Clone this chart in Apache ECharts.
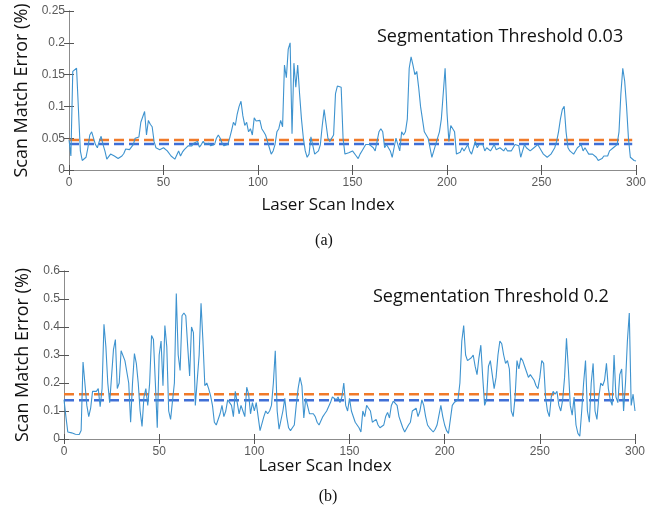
<!DOCTYPE html>
<html>
<head>
<meta charset="utf-8">
<script src="https://cdn.jsdelivr.net/npm/echarts@6/dist/echarts.min.js"></script>
<style>
  html, body { margin: 0; padding: 0; background: #fff; }
  #chart { width: 658px; height: 510px; }
</style>
</head>
<body>
<div id="chart"></div>
<script>
  // (a) segmentation threshold 0.03, scan match error per scan index 0..300
  var errA = [
    0.048, 0.022, 0.155, 0.155, 0.16, 0.095, 0.03, 0.015, 0.012, 0.02,
    0.035, 0.055, 0.06, 0.058, 0.04, 0.035, 0.045, 0.053, 0.04, 0.03,
    0.017, 0.02, 0.025, 0.024, 0.022, 0.02, 0.018, 0.02, 0.022, 0.026,
    0.033, 0.035, 0.032, 0.034, 0.04, 0.05, 0.05, 0.052, 0.075, 0.078,
    0.092, 0.055, 0.078, 0.072, 0.068, 0.045, 0.035, 0.033, 0.032, 0.034,
    0.035, 0.033, 0.03, 0.028, 0.022, 0.02, 0.017, 0.018, 0.03, 0.022,
    0.028, 0.032, 0.035, 0.038, 0.04, 0.038, 0.042, 0.04, 0.045, 0.036,
    0.04, 0.045, 0.04, 0.04, 0.042, 0.038, 0.036, 0.04, 0.05, 0.055,
    0.05, 0.042, 0.038, 0.035, 0.04, 0.05, 0.062, 0.075, 0.07, 0.088,
    0.1, 0.108, 0.085, 0.07, 0.075, 0.06, 0.065, 0.055, 0.082, 0.077,
    0.075, 0.078, 0.065, 0.06, 0.055, 0.045, 0.035, 0.025, 0.03, 0.04,
    0.06, 0.065, 0.078, 0.068, 0.165, 0.145, 0.19, 0.2, 0.057, 0.168,
    0.13, 0.165, 0.12, 0.08, 0.05, 0.03, 0.02, 0.025, 0.052, 0.05,
    0.025, 0.025, 0.03, 0.04, 0.07, 0.095, 0.096, 0.05, 0.045, 0.045,
    0.055, 0.12, 0.132, 0.13, 0.13, 0.05, 0.025, 0.025, 0.027, 0.025,
    0.03, 0.028, 0.022, 0.018, 0.025, 0.03, 0.035, 0.04, 0.04, 0.04,
    0.038, 0.035, 0.03, 0.045, 0.06, 0.065, 0.06, 0.035, 0.04, 0.04,
    0.03, 0.02, 0.035, 0.05, 0.04, 0.03, 0.06, 0.055, 0.06, 0.08,
    0.16, 0.178, 0.165, 0.15, 0.155, 0.13, 0.1, 0.08, 0.06, 0.055,
    0.05, 0.035, 0.02, 0.03, 0.04, 0.05, 0.06, 0.08, 0.12, 0.16,
    0.09, 0.045, 0.07, 0.07, 0.06, 0.025, 0.025, 0.028, 0.035, 0.03,
    0.035, 0.04, 0.03, 0.025, 0.035, 0.045, 0.035, 0.04, 0.038, 0.04,
    0.03, 0.035, 0.033, 0.03, 0.035, 0.04, 0.032, 0.03, 0.035, 0.035,
    0.03, 0.035, 0.03, 0.03, 0.03, 0.032, 0.04, 0.038, 0.038, 0.02,
    0.03, 0.04, 0.035, 0.032, 0.03, 0.03, 0.035, 0.035, 0.04, 0.035,
    0.03, 0.025, 0.022, 0.02, 0.02, 0.025, 0.03, 0.035, 0.045, 0.06,
    0.08, 0.095, 0.1, 0.06, 0.035, 0.03, 0.028, 0.025, 0.03, 0.035,
    0.038, 0.04, 0.03, 0.035, 0.03, 0.025, 0.028, 0.025, 0.028, 0.02,
    0.015, 0.012, 0.018, 0.022, 0.025, 0.022, 0.03, 0.032, 0.035, 0.038,
    0.04, 0.06, 0.12, 0.16, 0.14, 0.1, 0.05, 0.02, 0.022, 0.015, 0.014
  ];

  // (b) segmentation threshold 0.2
  var errB = [
    0.14, 0.08, 0.025, 0.02, 0.022, 0.018, 0.017, 0.016, 0.016, 0.03,
    0.275, 0.27, 0.12, 0.08, 0.11, 0.17, 0.175, 0.17, 0.18, 0.115,
    0.18, 0.41, 0.33, 0.2, 0.13, 0.135, 0.32, 0.355, 0.18, 0.2,
    0.315, 0.31, 0.28, 0.28, 0.2, 0.06, 0.2, 0.305, 0.27, 0.2,
    0.1, 0.045, 0.15, 0.18, 0.12, 0.2, 0.37, 0.355, 0.2, 0.04,
    0.3, 0.35, 0.19, 0.405, 0.33, 0.1, 0.07, 0.065, 0.2, 0.52,
    0.3, 0.245, 0.44, 0.45, 0.44, 0.33, 0.225, 0.4, 0.38, 0.12,
    0.115, 0.3, 0.485, 0.35, 0.19, 0.2, 0.18, 0.155, 0.12, 0.06,
    0.05, 0.045, 0.09, 0.12, 0.08, 0.1, 0.14, 0.13, 0.12, 0.08,
    0.17, 0.165, 0.09, 0.12, 0.1, 0.08, 0.185, 0.16, 0.09, 0.13,
    0.1, 0.13, 0.135, 0.03, 0.055, 0.08, 0.1, 0.09, 0.1, 0.12,
    0.2, 0.315, 0.1, 0.035, 0.04, 0.1, 0.145, 0.08, 0.04, 0.03,
    0.04, 0.05, 0.12, 0.18, 0.22, 0.19, 0.075, 0.145, 0.14, 0.09,
    0.095, 0.09, 0.08, 0.06, 0.05, 0.05, 0.08, 0.09, 0.1, 0.1,
    0.13, 0.15, 0.145, 0.14, 0.15, 0.13, 0.15, 0.2, 0.12, 0.1,
    0.145, 0.1, 0.1, 0.06, 0.05, 0.04, 0.025, 0.1, 0.08, 0.12,
    0.11, 0.1, 0.06, 0.06, 0.07, 0.05, 0.04, 0.035, 0.05, 0.08,
    0.095, 0.075, 0.12, 0.135, 0.13, 0.12, 0.08, 0.06, 0.04, 0.025,
    0.03, 0.05, 0.06, 0.1, 0.1, 0.11, 0.08, 0.1, 0.14, 0.12,
    0.08, 0.05, 0.04, 0.035, 0.025, 0.035, 0.05, 0.085, 0.12, 0.08,
    0.05, 0.03, 0.02, 0.07, 0.12, 0.13, 0.13, 0.14, 0.2, 0.35,
    0.405, 0.3, 0.28, 0.275, 0.29, 0.3, 0.26, 0.23, 0.29, 0.335,
    0.22, 0.12, 0.14, 0.26, 0.28, 0.23, 0.18, 0.22, 0.3, 0.35,
    0.34, 0.3, 0.27, 0.28, 0.25, 0.1, 0.08, 0.15, 0.28, 0.25,
    0.29, 0.28, 0.26, 0.24, 0.22, 0.23, 0.23, 0.21, 0.19, 0.18,
    0.22, 0.28, 0.27, 0.15, 0.1, 0.08, 0.15, 0.17, 0.16, 0.17,
    0.12, 0.1, 0.14, 0.22, 0.36, 0.25, 0.12, 0.085, 0.15, 0.05,
    0.02, 0.01, 0.1, 0.2, 0.28, 0.1, 0.06, 0.2, 0.27, 0.1,
    0.07, 0.15, 0.2, 0.19, 0.21, 0.27, 0.18, 0.14, 0.12, 0.3,
    0.15, 0.13, 0.23, 0.25, 0.1, 0.2, 0.35, 0.45, 0.12, 0.16, 0.1
  ];

  // dashed reference levels [orange, blue] and their x extent
  var levelsA = [0.047, 0.041];
  var levelsB = [0.16, 0.138];
  var levelEndA = 298;
  var levelEndB = 297;

  var yTicksA = [0, 0.25, 0.05];
  var yTicksB = [0, 0.6, 0.1];
  var xTicks = [0, 300, 50];

  var titles = ['Segmentation Threshold 0.03', 'Segmentation Threshold 0.2'];
  var captions = ['(a)', '(b)'];
  var xName = 'Laser Scan Index';
  var yName = 'Scan Match Error (%)';

  function toPts(arr) {
    return arr.map(function (v, i) { return [i, v]; });
  }
  function fmt(v) { return String(+v.toFixed(3)); }

  var axisCol = '#8c8c8c';
  var tickFont = { color: '#5a5a5a', fontSize: 12, fontFamily: 'Liberation Sans' };
  var nameFont = { color: '#111', fontSize: 18, fontFamily: 'Open Sans' };

  function xAx(grid, bottom) {
    return {
      type: 'value', gridIndex: grid, position: bottom ? 'bottom' : 'top',
      min: xTicks[0], max: xTicks[1], interval: xTicks[2],
      axisLine: { show: true, lineStyle: { color: axisCol, width: 1 } },
      axisTick: { show: true, inside: true, length: 5, lineStyle: { color: '#555' } },
      axisLabel: { show: bottom, margin: 7, ...tickFont },
      splitLine: { show: false }
    };
  }
  function yAx(grid, left, t, gap) {
    return {
      type: 'value', gridIndex: grid, position: left ? 'left' : 'right',
      min: t[0], max: t[1], interval: t[2],
      name: left ? yName : '', nameLocation: 'middle', nameGap: gap,
      nameTextStyle: nameFont,
      axisLine: { show: true, lineStyle: { color: axisCol, width: 1 } },
      axisTick: { show: true, inside: true, length: 5, lineStyle: { color: '#555' } },
      axisLabel: { show: left, margin: 4, formatter: fmt, ...tickFont },
      splitLine: { show: false }
    };
  }
  function levelLine(xi, yi, v, end, color) {
    return {
      type: 'line', xAxisIndex: xi, yAxisIndex: yi, symbol: 'none', silent: true,
      data: [[0, v], [end, v]],
      lineStyle: { color: color, width: 2.5, type: [10, 5] }
    };
  }
  function errLine(xi, yi, arr) {
    return {
      type: 'line', xAxisIndex: xi, yAxisIndex: yi, symbol: 'none', silent: true,
      data: toPts(arr), z: 3,
      lineStyle: { color: '#3e93cf', width: 1.1 }
    };
  }
  function label(text, x, y, size, family, align) {
    return {
      type: 'text', x: x, y: y, silent: true,
      style: { text: text, fontSize: size, fontFamily: family, fill: '#111',
               align: align || 'center', verticalAlign: 'middle' }
    };
  }

  var chart = echarts.init(document.getElementById('chart'));
  var option = {
    animation: false,
    backgroundColor: '#fff',
    grid: [
      { left: 69, right: 22, top: 11, height: 159 },
      { left: 64, right: 23, top: 271, height: 168 }
    ],
    xAxis: [xAx(0, true), xAx(0, false), xAx(1, true), xAx(1, false)],
    yAxis: [yAx(0, true, yTicksA, 31), yAx(0, false, yTicksA, 0),
            yAx(1, true, yTicksB, 32), yAx(1, false, yTicksB, 0)],
    graphic: [
      label(titles[0], 377, 37, 18, 'Open Sans', 'left'),
      label(titles[1], 373, 297, 18, 'Open Sans', 'left'),
      label(xName, 328, 205, 17, 'Open Sans'),
      label(xName, 325, 466, 17, 'Open Sans'),
      label(captions[0], 324, 241, 16, 'Liberation Serif'),
      label(captions[1], 328, 497, 16, 'Liberation Serif')
    ],
    series: [
      levelLine(0, 0, levelsA[0], levelEndA, '#f07a2a'),
      levelLine(0, 0, levelsA[1], levelEndA, '#3f6fd6'),
      errLine(0, 0, errA),
      levelLine(2, 2, levelsB[0], levelEndB, '#f07a2a'),
      levelLine(2, 2, levelsB[1], levelEndB, '#3f6fd6'),
      errLine(2, 2, errB)
    ]
  };
  chart.setOption(option);
</script>
</body>
</html>
